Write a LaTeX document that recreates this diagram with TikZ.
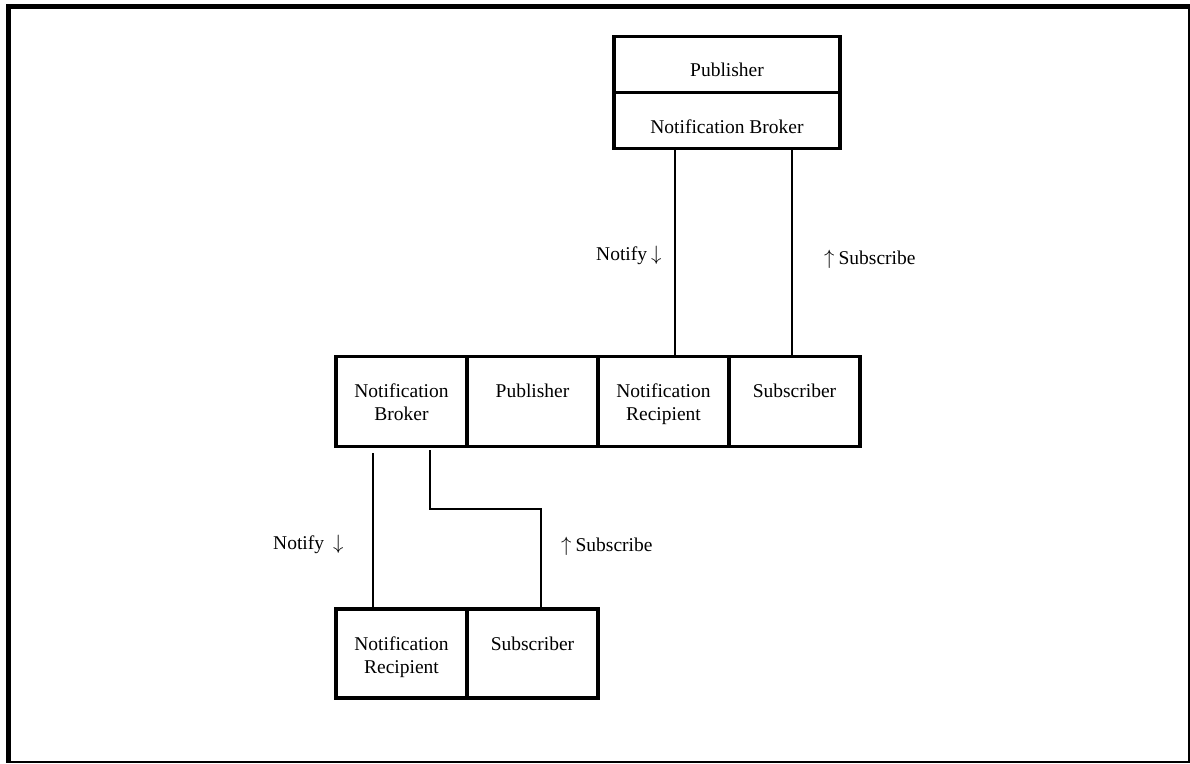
\documentclass[tikz,border=0pt]{standalone}
\usepackage{fontspec}
\setmainfont{Liberation Serif}
\newcommand{\bxt}[4]{\parbox[t][#2pt][t]{#1pt}{\centering\rule{0pt}{#3pt}#4}}
\begin{document}
\begin{tikzpicture}[x=1pt,y=-1pt,
  every node/.style={font=\fontsize{19.5}{23.5}\selectfont},
  bx/.style={draw,line width=3.5pt,inner sep=0pt,outer sep=0pt,anchor=north west,line join=miter},
  conn/.style={line width=2.9pt,line join=miter},
  lbl/.style={inner sep=0pt,anchor=base west}]
\useasboundingbox (0,0) rectangle (1190,763);
% frame
\draw[line width=5pt] (8.5,4) -- (8.5,763);
\draw[line width=5pt] (6,6.5) -- (1190,6.5);
\draw[line width=2pt] (1188.5,4) -- (1188.5,763);
\draw[line width=2pt] (6,762) -- (1190,762);
% top stack
\node[bx] (pubtop) at (614,36.5) {\bxt{226}{56}{40}{Publisher}};
\node[bx] (brktop) at (614,92.5) {\bxt{226}{56}{41}{Notification Broker}};
% middle row
\node[bx] (nb) at (336,356.5) {\bxt{131}{90}{40.5}{Notification\\Broker}};
\node[bx] (pub) at (467,356.5) {\bxt{131}{90}{40.5}{Publisher}};
\node[bx] (nr) at (598,356.5) {\bxt{131}{90}{40.5}{Notification\\Recipient}};
\node[bx] (sub) at (729,356.5) {\bxt{131}{90}{40.5}{Subscriber}};
% bottom row
\node[bx] (nr2) at (336,609) {\bxt{131}{89}{41}{Notification\\Recipient}};
\node[bx] (sub2) at (467,609) {\bxt{131}{89}{41}{Subscriber}};
% connector x positions
\coordinate (xa) at (675,0);
\coordinate (xb) at (792,0);
\coordinate (xc) at (373,0);
\coordinate (xd) at (430,0);
\coordinate (xe) at (541,0);
\draw[conn] (brktop.south -| xa) -- (nr.north -| xa);
\draw[conn] (brktop.south -| xb) -- (sub.north -| xb);
\path (nb.south -| xc) ++(0,6.5) coordinate (s1);
\path (nb.south -| xd) ++(0,3.5) coordinate (s2);
\draw[conn] (s1) -- (nr2.north -| xc);
\draw[conn] (s2) -- ++(0,59) -| (sub2.north -| xe);
% labels
\node[lbl] (l1) at (596,260) {Notify\hspace{4pt}$\downarrow$};
\node[lbl] (l2) at (824,264) {$\uparrow$\hspace{4pt}Subscribe};
\node[lbl] (l3) at (273,549) {Notify\hspace{9pt}$\downarrow$};
\node[lbl] (l4) at (561,551) {$\uparrow$\hspace{4pt}Subscribe};
\end{tikzpicture}
\end{document}
